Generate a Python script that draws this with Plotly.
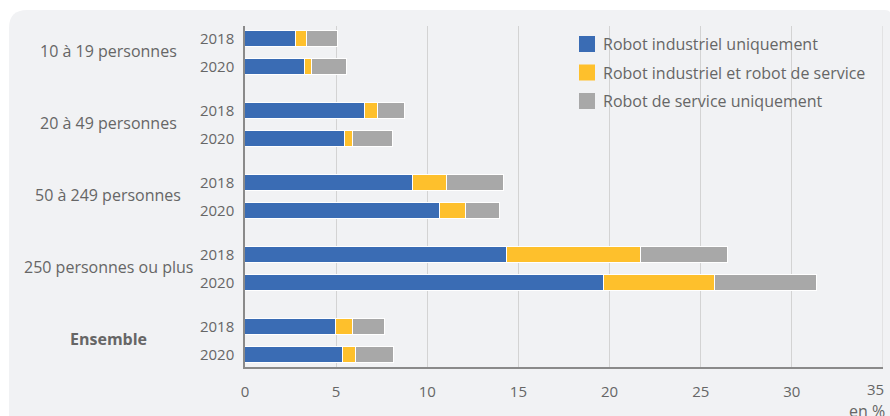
import plotly.graph_objects as go

# ---- data ----
groups = ["10 à 19 personnes", "20 à 49 personnes", "50 à 249 personnes",
          "250 personnes ou plus", "<b>Ensemble</b>"]
years = ["2018", "2020"]
series_names = ["Robot industriel uniquement",
                "Robot industriel et robot de service",
                "Robot de service uniquement"]
industriel = [2.8, 3.3, 6.6, 5.5, 9.2, 10.7, 14.4, 19.7, 5.0, 5.4]
les_deux = [0.6, 0.4, 0.7, 0.4, 1.9, 1.4, 7.3, 6.1, 0.9, 0.7]
service = [1.7, 1.9, 1.5, 2.2, 3.1, 1.9, 4.8, 5.6, 1.8, 2.1]
x_ticks = [0, 5, 10, 15, 20, 25, 30, 35]
unit_label = "en %"

colors = ["#3a6cb4", "#fec02c", "#a8a8a8"]
FONT = "Open Sans"
TXT = "#666666"

# layout of rows: group pitch 72, year pitch 28 (pixel units on y axis)
GROUP_PITCH, YEAR_PITCH = 72, 28
ypos, ytext = [], []
for gi, g in enumerate(groups):
    for yi, yr in enumerate(years):
        ypos.append(gi * GROUP_PITCH + yi * YEAR_PITCH)
        ytext.append(yr)

fig = go.Figure()
for name, vals, col in zip(series_names, [industriel, les_deux, service], colors):
    fig.add_trace(go.Bar(
        x=vals, y=ypos, orientation="h", name=name, width=16,
        marker=dict(color=col, line=dict(color="white", width=1)),
        hovertemplate="%{x}<extra>" + name + "</extra>",
        showlegend=False,
    ))

# group labels
for gi, g in enumerate(groups):
    fig.add_annotation(
        x=-0.2147, xref="paper", xanchor="center",
        y=gi * GROUP_PITCH + YEAR_PITCH / 2, yref="y", yanchor="middle", yshift=2,
        text=g, showarrow=False, font=dict(family=FONT, size=16, color=TXT),
    )

# legend (drawn manually: 16px squares)
for i, (name, col) in enumerate(zip(series_names, colors)):
    cy = -18 - i * 28.5  # pixels relative to plot top
    fig.add_shape(type="rect", xref="paper", yref="paper", xsizemode="pixel",
                  ysizemode="pixel", xanchor=0, yanchor=1,
                  x0=334, x1=350, y0=cy - 8, y1=cy + 8,
                  fillcolor=col, line=dict(width=0))
    fig.add_annotation(x=356 / 638, xref="paper", xanchor="left",
                       y=1 + cy / 341, yref="paper", yanchor="middle",
                       text=name, showarrow=False,
                       font=dict(family=FONT, size=16, color=TXT))

# last x tick label (right aligned so it stays inside)
fig.add_annotation(x=x_ticks[-1], xref="x", xanchor="right", y=-0.0645, yref="paper",
                   yanchor="middle", text=str(x_ticks[-1]), showarrow=False, xshift=3,
                   font=dict(family=FONT, size=15, color=TXT))
fig.add_annotation(x=1, xref="paper", xanchor="right", y=-0.132, yref="paper",
                   yanchor="middle", text=unit_label, showarrow=False, xshift=4, yshift=1,
                   font=dict(family=FONT, size=16, color=TXT))

# panel background (pixel path anchored at plot top-left)
fig.add_shape(type="path", xref="paper", yref="paper", xsizemode="pixel",
              ysizemode="pixel", xanchor=0, yanchor=1, layer="below",
              path="M -236,-420 L -236,-2 Q -236,16 -218,16 L 640,16 Q 646,16 646,10 L 646,-420 Z",
              fillcolor="#f1f2f4", line=dict(width=0))

last_y = (len(groups) - 1) * GROUP_PITCH + YEAR_PITCH
fig.update_layout(
    width=890, height=416,
    margin=dict(l=245, r=7, t=26, b=49),
    paper_bgcolor="white", plot_bgcolor="rgba(0,0,0,0)",
    barmode="stack", bargap=0,
    font=dict(family=FONT, size=15, color=TXT),
    showlegend=False,
    xaxis=dict(range=[0, 35], tickvals=x_ticks[:-1], showgrid=True,
               gridcolor="#d3d3d3", gridwidth=1, zeroline=False,
               showline=True, linecolor="#8a8a8a", linewidth=1.5,
               ticks="", ticklabelstandoff=10,
               tickfont=dict(family=FONT, size=15, color=TXT)),
    yaxis=dict(range=[last_y + 12, -13], tickvals=ypos, ticktext=ytext,
               showgrid=False, zeroline=False, showline=True,
               linecolor="#8a8a8a", linewidth=1.5, ticks="",
               ticklabelstandoff=6,
               tickfont=dict(family=FONT, size=15, color=TXT)),
)
# vertical grid line at 35 (right edge)
fig.add_shape(type="line", xref="x", yref="paper", x0=35, x1=35, y0=0, y1=1,
              line=dict(color="#d3d3d3", width=1), layer="below")

fig.write_html("out.html", config={"displayModeBar": False},
               post_script="document.body.style.margin='0';document.body.style.overflow='hidden';")
